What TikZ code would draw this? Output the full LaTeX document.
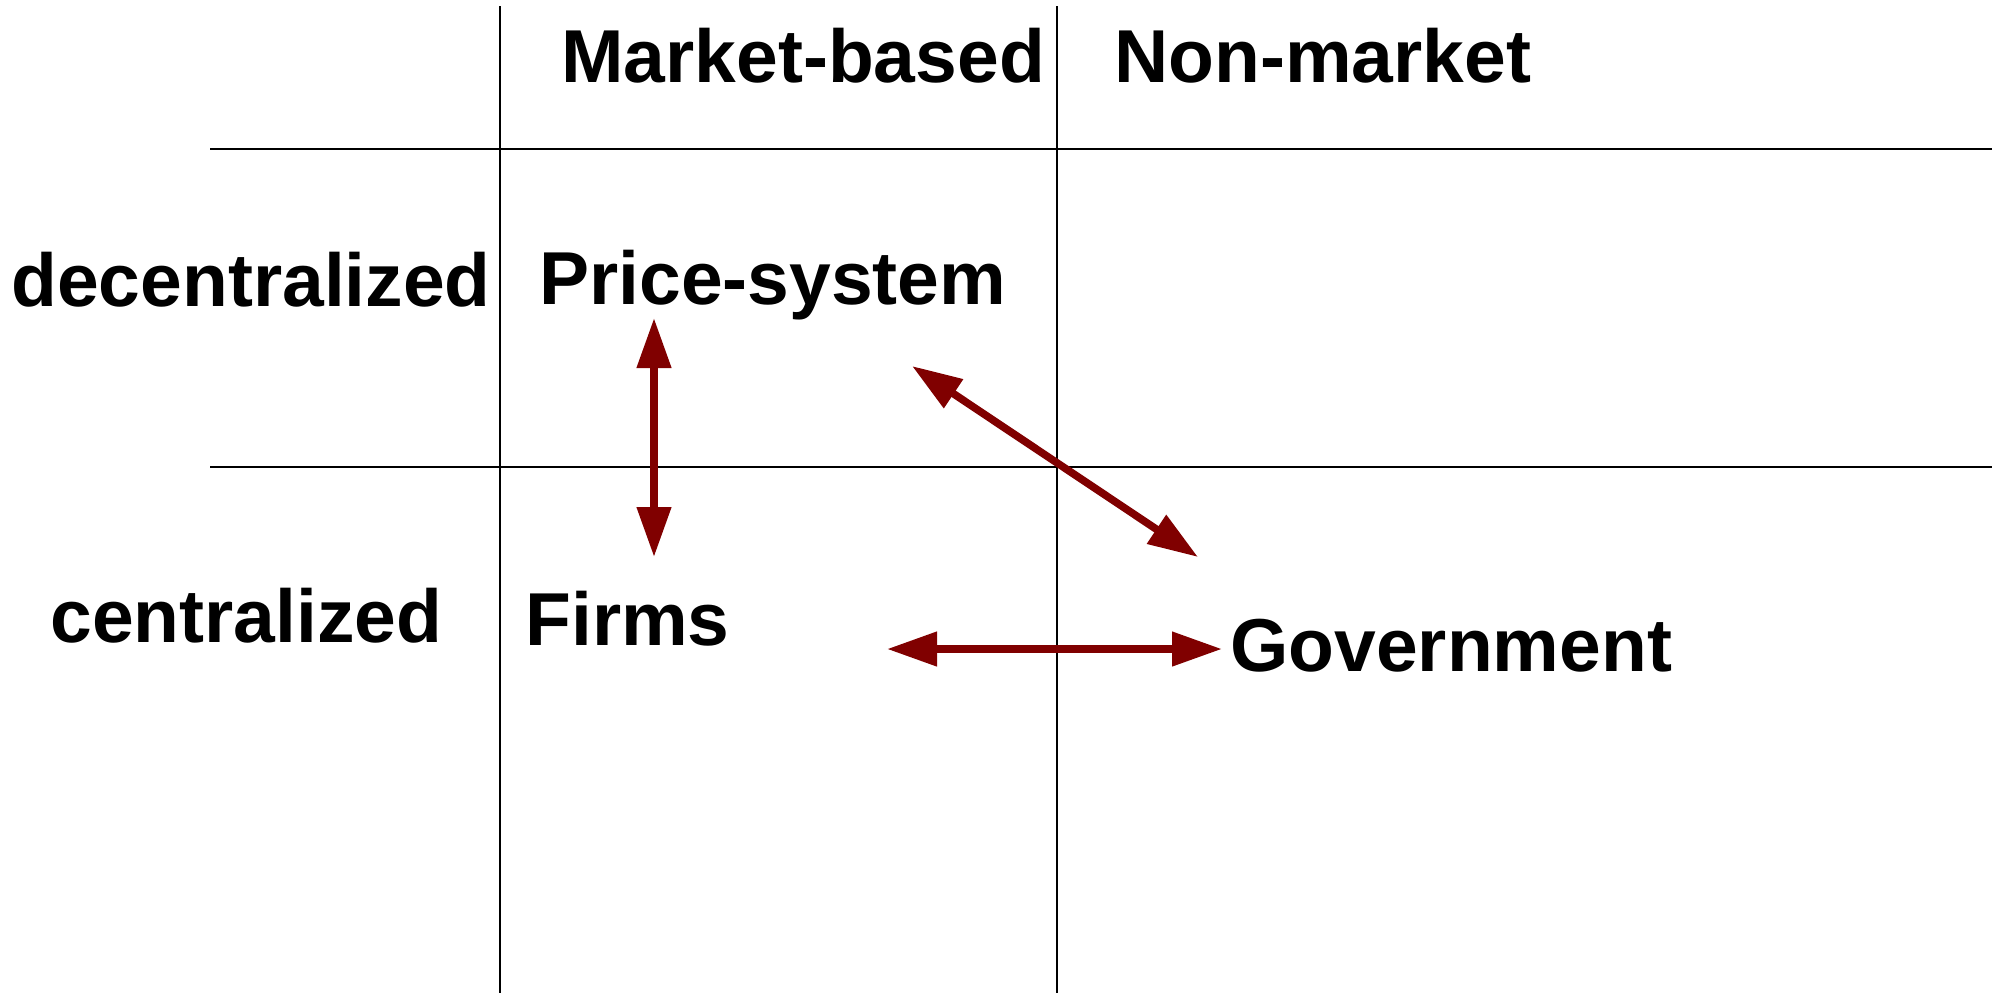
\documentclass[tikz,border=0pt]{standalone}
\usepackage{fontspec}
\setmainfont{Liberation Sans}
\usetikzlibrary{arrows.meta}
\definecolor{arrowred}{RGB}{128,0,0}
\tikzset{
  lbl/.style={inner sep=0pt, anchor=base west, font=\fontsize{37.5pt}{45pt}\selectfont\bfseries},
  gridline/.style={line width=1.2pt, black},
  link/.style={line width=3.8pt, arrowred, {Triangle[length=25pt,width=16.5pt]}-{Triangle[length=25pt,width=16.5pt]}}
}
\begin{document}
\begin{tikzpicture}[x=0.5pt,y=-0.5pt]
\useasboundingbox (0,0) rectangle (2000,993);
% grid
\draw[gridline] (500,6) -- (500,993);
\draw[gridline] (1057,6) -- (1057,993);
\draw[gridline] (210,149) -- (1992,149);
\draw[gridline] (210,467) -- (1992,467);
% labels
\node[lbl] (mkt) at (561,82) {Market-based};
\node[lbl] (non) at (1114,82) {Non-market};
\node[lbl] (dec) at (11,306) {decentralized};
\node[lbl] (cen) at (50,642) {centralized};
\node[lbl] (price) at (539,304) {Price-system};
\node[lbl] (firms) at (525,645) {Firms};
\node[lbl] (gov) at (1230,671) {Government};
% arrow ends
\coordinate (pbot) at (654,318);
\coordinate (ftop) at (654,557);
\coordinate (pdiag) at (912,366);
\coordinate (gdiag) at (1198,557);
\coordinate (fright) at (887,649);
\coordinate (gleft) at (1222,649);
\draw[link] (pbot) -- (ftop);
\draw[link] (pdiag) -- (gdiag);
\draw[link] (fright) -- (gleft);
\end{tikzpicture}
\end{document}
